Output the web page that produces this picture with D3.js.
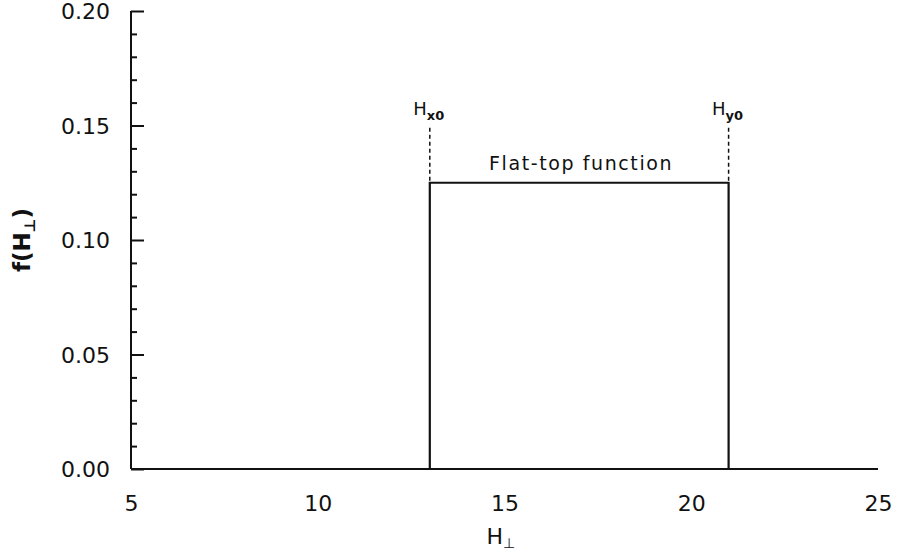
<!DOCTYPE html>
<html lang="en">
<head>
<meta charset="UTF-8">
<title>Flat-top function</title>
<style type="text/css">
    body { margin:0; background:#fff }
    svg text { font-family: "DejaVu Sans", sans-serif; fill:#111 }
    .axis path, .axis line { stroke:#111; stroke-width:2 }
</style>
</head>
<body>
<script src="https://d3js.org/d3.v7.min.js"></script>
<script>
    // data
    var xTicks = [5, 10, 15, 20, 25];
    var yMajor = [0.00, 0.05, 0.10, 0.15, 0.20];
    var yMinor = d3.range(0, 21).map(function(i){ return i / 100; });
    var hPerp = [5, 13, 13, 21, 21, 25];
    var fVal  = [0, 0, 0.125, 0.125, 0, 0];
    var markers = [{x: 13, label: 'x0'}, {x: 21, label: 'y0'}];

    var width = 912, height = 554,
        svg = d3.select('body').append('svg')
                .attr('width', width)
                .attr('height', height);

    var xScale = d3.scaleLinear().domain([5, 25]).range([131, 878]);
    var yScale = d3.scaleLinear().domain([0, 0.20]).range([469, 11]);
    var x0 = xScale(5);

    function isMajor(d) {
        return yMajor.some(function(m){ return Math.abs(m - d) < 1e-9; });
    }

    // y axis, ticks pointing inward
    var yAxis = d3.axisLeft(yScale)
        .tickValues(yMinor)
        .tickSize(-6)
        .tickFormat(function(d){ return isMajor(d) ? d3.format('.2f')(d) : ''; });

    var gy = svg.append('g')
        .attr('class', 'axis')
        .attr('transform', 'translate(' + x0 + ',0)')
        .call(yAxis);
    gy.select('.domain').attr('d', 'M0,' + yScale(0) + 'V' + yScale(0.2));
    gy.selectAll('.tick line')
        .attr('x2', function(d){ return isMajor(d) ? 13 : 6; });
    gy.selectAll('.tick text')
        .attr('x', -21)
        .attr('dy', '0.35em')
        .style('font-size', '22px');

    // x axis: baseline with labels, no tick marks
    var xAxis = d3.axisBottom(xScale).tickValues(xTicks).tickSize(0).tickPadding(26);
    var gx = svg.append('g')
        .attr('class', 'axis')
        .attr('transform', 'translate(0,' + yScale(0) + ')')
        .call(xAxis);
    gx.select('.domain').attr('d', 'M' + x0 + ',0H' + xScale(25));
    gx.selectAll('.tick text').style('font-size', '22px');

    // flat-top curve
    var line = d3.line()
        .x(function(d){ return xScale(d[0]); })
        .y(function(d){ return yScale(d[1]); });
    svg.append('path')
        .datum(d3.zip(hPerp, fVal))
        .attr('d', line)
        .attr('fill', 'none')
        .attr('stroke', '#111')
        .attr('stroke-width', 2.2);

    // dashed markers above the edges
    markers.forEach(function(m){
        svg.append('line')
            .attr('x1', xScale(m.x)).attr('x2', xScale(m.x))
            .attr('y1', yScale(0.125) - 2).attr('y2', yScale(0.150))
            .attr('stroke', '#111')
            .attr('stroke-width', 1.5)
            .attr('stroke-dasharray', '4,3');
        var t = svg.append('text')
            .attr('x', xScale(m.x) - 1)
            .attr('y', yScale(0.1545))
            .attr('text-anchor', 'middle')
            .style('font-size', '18px');
        t.append('tspan').text('H');
        t.append('tspan').attr('dy', 5).style('font-size', '13px').style('font-weight', 'bold').text(m.label);
    });

    svg.append('text')
        .attr('x', xScale(17.05))
        .attr('y', yScale(0.1305))
        .attr('text-anchor', 'middle')
        .style('font-size', '19px')
        .style('letter-spacing', '1.6px')
        .text('Flat-top function');

    // axis titles
    var xt = svg.append('text')
        .attr('x', xScale(14.9))
        .attr('y', 544)
        .attr('text-anchor', 'middle')
        .style('font-size', '22px');
    xt.append('tspan').text('H');
    xt.append('tspan').attr('dy', 4).style('font-size', '14px').text('\u22A5');

    var yt = svg.append('text')
        .attr('transform', 'translate(30,' + yScale(0.10) + ') rotate(-90)')
        .attr('text-anchor', 'middle')
        .style('font-size', '23px')
        .style('font-weight', 'bold');
    yt.append('tspan').text('f(H');
    yt.append('tspan').attr('dy', 5).style('font-size', '15px').text('\u22A5');
    yt.append('tspan').attr('dy', -5).text(')');
</script>
</body>
</html>
